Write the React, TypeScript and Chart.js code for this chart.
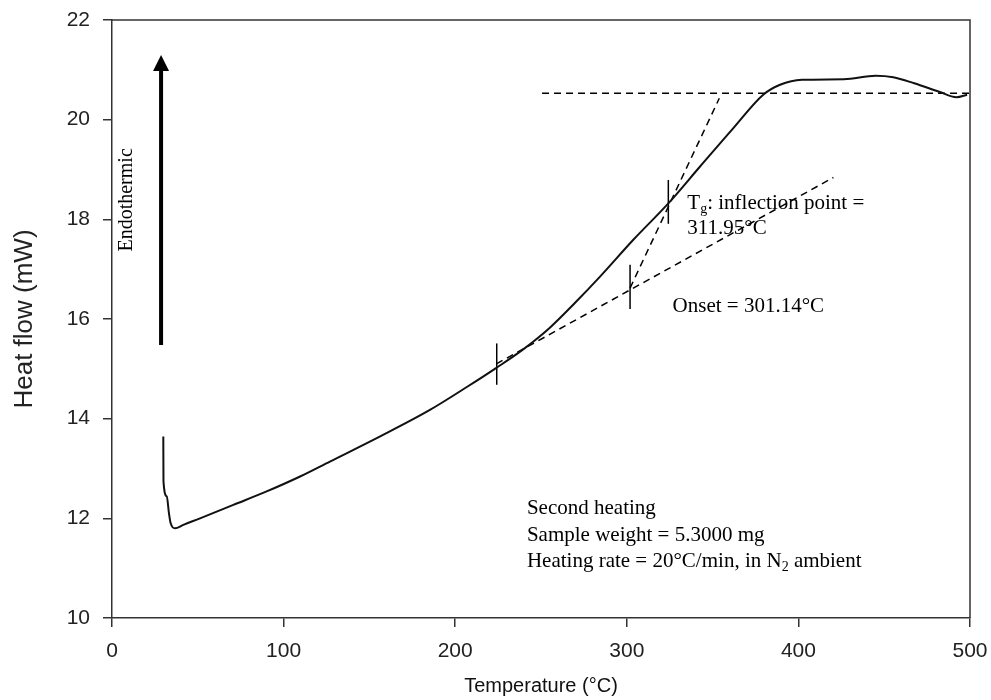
import React, { useEffect, useRef } from "react";
import { Chart, registerables } from "chart.js";

Chart.register(...registerables);

// Measured DSC curve (second heating)
const tempC = [29.9, 30.0, 31.9, 33.2, 34.2, 36.7, 41.6, 51.3, 70.7, 90.1, 109.6, 127, 156, 185, 207, 224, 240, 255, 270, 284.4, 303.8, 324.2, 342.7, 362.1, 379.5, 389.3, 402.1, 426.6, 445, 455.3, 467.5, 482, 492.1, 498.3];
const heatFlow = [13.64, 12.74, 12.44, 12.1, 11.9, 11.8, 11.87, 12.0, 12.27, 12.54, 12.84, 13.14, 13.64, 14.17, 14.64, 15.02, 15.4, 15.82, 16.33, 16.85, 17.59, 18.32, 19.06, 19.83, 20.5, 20.7, 20.8, 20.81, 20.88, 20.85, 20.73, 20.56, 20.45, 20.5];

// Construction (tangent) lines
const baselineX = [250.6, 500];
const baselineY = [20.53, 20.53];
const onsetTangentX = [224, 420.4];
const onsetTangentY = [15.1, 18.84];
const steepTangentX = [301.9, 353.9];
const steepTangentY = [16.62, 20.43];

// Vertical markers
const markerX = [224.2, 301.9, 324.2];
const markerLow = [14.68, 16.2, 17.91];
const markerHigh = [15.51, 17.09, 18.79];

// Endothermic arrow
const arrowX = 28.6;
const arrowY = [15.48, 21.3];

// Axis ticks
const xTicks = [0, 100, 200, 300, 400, 500];
const yTicks = [10, 12, 14, 16, 18, 20, 22];

// Annotation texts and anchors (data units)
const tgLabel = ["T", "g", ": inflection point ="];
const tgValue = "311.95°C";
const tgAnchor = [335.3, 18.21, 17.71];
const onsetLabel = "Onset = 301.14°C";
const onsetAnchor = [326.7, 16.15];
const infoLines = ["Second heating", "Sample weight = 5.3000 mg"];
const rateParts = ["Heating rate = 20°C/min, in ", "N", "2", " ambient"];
const infoAnchor = [241.8, 12.09, 11.55, 11.03];
const endoLabel = "Endothermic";
const endoAnchor = [8.6, 18.39];

const pts = (xs: number[], ys: number[]) => xs.map((x, i) => ({ x, y: ys[i] }));

const SERIF = "'Liberation Serif', 'Times New Roman', serif";
const SANS = "'Liberation Sans', Arial, sans-serif";

const overlay = {
  id: "overlay",
  afterDraw(chart: any) {
    const { ctx, chartArea, scales } = chart;
    const xs = scales.x;
    const ys = scales.y;
    ctx.save();
    // top and right frame
    ctx.strokeStyle = "#333";
    ctx.lineWidth = 1.5;
    ctx.beginPath();
    ctx.moveTo(chartArea.left, chartArea.top);
    ctx.lineTo(chartArea.right, chartArea.top);
    ctx.lineTo(chartArea.right, chartArea.bottom);
    ctx.stroke();

    // arrow
    const ax = xs.getPixelForValue(arrowX);
    const ay0 = ys.getPixelForValue(arrowY[0]);
    const ay1 = ys.getPixelForValue(arrowY[1]);
    ctx.strokeStyle = "#000";
    ctx.fillStyle = "#000";
    ctx.lineWidth = 4;
    ctx.beginPath();
    ctx.moveTo(ax, ay0);
    ctx.lineTo(ax, ay1 + 12);
    ctx.stroke();
    ctx.beginPath();
    ctx.moveTo(ax, ay1);
    ctx.lineTo(ax - 8, ay1 + 16);
    ctx.lineTo(ax + 8, ay1 + 16);
    ctx.closePath();
    ctx.fill();

    // texts
    ctx.fillStyle = "#000";
    ctx.textBaseline = "alphabetic";
    ctx.textAlign = "left";
    const big = `21px ${SERIF}`;
    const small = `14px ${SERIF}`;
    // Tg label
    let tx = xs.getPixelForValue(tgAnchor[0]);
    const ty = ys.getPixelForValue(tgAnchor[1]);
    ctx.font = big;
    ctx.fillText(tgLabel[0], tx, ty);
    tx += ctx.measureText(tgLabel[0]).width;
    ctx.font = small;
    ctx.fillText(tgLabel[1], tx, ty + 4);
    tx += ctx.measureText(tgLabel[1]).width;
    ctx.font = big;
    ctx.fillText(tgLabel[2], tx, ty);
    ctx.fillText(tgValue, xs.getPixelForValue(tgAnchor[0]), ys.getPixelForValue(tgAnchor[2]));
    // Onset
    ctx.fillText(onsetLabel, xs.getPixelForValue(onsetAnchor[0]), ys.getPixelForValue(onsetAnchor[1]));
    // Info block
    const ix = xs.getPixelForValue(infoAnchor[0]);
    ctx.fillText(infoLines[0], ix, ys.getPixelForValue(infoAnchor[1]));
    ctx.fillText(infoLines[1], ix, ys.getPixelForValue(infoAnchor[2]));
    let rx = ix;
    const ry = ys.getPixelForValue(infoAnchor[3]);
    ctx.fillText(rateParts[0], rx, ry);
    rx += ctx.measureText(rateParts[0]).width;
    ctx.fillText(rateParts[1], rx, ry);
    rx += ctx.measureText(rateParts[1]).width;
    ctx.font = small;
    ctx.fillText(rateParts[2], rx, ry + 4);
    rx += ctx.measureText(rateParts[2]).width;
    ctx.font = big;
    ctx.fillText(rateParts[3], rx, ry);
    // Endothermic (vertical)
    ctx.save();
    ctx.translate(xs.getPixelForValue(endoAnchor[0]), ys.getPixelForValue(endoAnchor[1]));
    ctx.rotate(-Math.PI / 2);
    ctx.font = `20px ${SERIF}`;
    ctx.textAlign = "center";
    ctx.textBaseline = "middle";
    ctx.fillText(endoLabel, 0, 0);
    ctx.restore();
    ctx.restore();
  },
};

export default function App() {
  const ref = useRef<HTMLCanvasElement | null>(null);
  useEffect(() => {
    if (!ref.current) return;
    const dashed = { borderColor: "#000", borderWidth: 1.5, borderDash: [7, 5], pointRadius: 0, showLine: true, fill: false };
    const solid = { borderColor: "#000", borderWidth: 1.5, pointRadius: 0, showLine: true, fill: false };
    const markerSets = markerX.map((mx, i) => ({
      ...solid,
      data: [{ x: mx, y: markerLow[i] }, { x: mx, y: markerHigh[i] }],
    }));
    const chart = new Chart(ref.current, {
      type: "scatter",
      data: {
        datasets: [
          {
            data: pts(tempC, heatFlow),
            borderColor: "#111",
            borderWidth: 2,
            pointRadius: 0,
            showLine: true,
            fill: false,
            cubicInterpolationMode: "monotone",
          } as any,
          { ...dashed, data: pts(baselineX, baselineY) },
          { ...dashed, data: pts(onsetTangentX, onsetTangentY) },
          { ...dashed, data: pts(steepTangentX, steepTangentY) },
          ...markerSets,
        ],
      },
      options: {
        responsive: false,
        animation: false,
        layout: { padding: { top: 20, right: 21, left: 0, bottom: 0 } },
        plugins: { legend: { display: false }, tooltip: { enabled: false } },
        scales: {
          x: {
            type: "linear",
            min: 0,
            max: 500,
            afterFit: (s: any) => { s.height = 82; s.paddingLeft = 0; s.paddingRight = 0; },
            afterBuildTicks: (s: any) => { s.ticks = xTicks.map((v) => ({ value: v })); },
            ticks: { padding: 12, color: "#222", font: { family: SANS, size: 21 } },
            grid: { display: true, drawOnChartArea: false, drawTicks: true, tickLength: 9, color: "#333", lineWidth: 1.5 },
            border: { display: true, color: "#333", width: 1.5 },
            title: { display: true, text: "Temperature (°C)", color: "#111", font: { family: SANS, size: 20 }, padding: { top: 0, bottom: 2 } },
          },
          y: {
            type: "linear",
            min: 10,
            max: 22,
            afterFit: (s: any) => { s.width = 112; s.paddingTop = 0; s.paddingBottom = 0; },
            afterBuildTicks: (s: any) => { s.ticks = yTicks.map((v) => ({ value: v })); },
            ticks: { padding: 13, color: "#222", font: { family: SANS, size: 21 } },
            grid: { display: true, drawOnChartArea: false, drawTicks: true, tickLength: 9, color: "#333", lineWidth: 1.5 },
            border: { display: true, color: "#333", width: 1.5 },
            title: { display: true, text: "Heat flow (mW)", color: "#222", font: { family: SANS, size: 26 }, padding: { top: 9, bottom: 0 } },
          },
        },
      },
      plugins: [overlay],
    });
    return () => chart.destroy();
  }, []);
  return (
    <div style={{ position: "absolute", left: 0, top: 0, width: 991, height: 700, background: "#fff" }}>
      <canvas ref={ref} width={991} height={700} />
    </div>
  );
}
